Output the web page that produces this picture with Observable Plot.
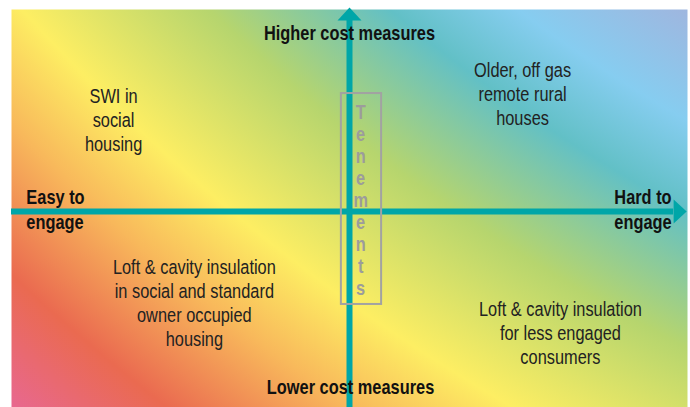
<!DOCTYPE html>
<html>
<head>
<meta charset="utf-8">
<script src="https://cdn.jsdelivr.net/npm/d3@7"></script>
<script src="https://cdn.jsdelivr.net/npm/@observablehq/plot@0.6"></script>
<style>
  html, body { margin: 0; padding: 0; background: #fff; }
  #chart svg { display: block; }
</style>
</head>
<body>
<div id="chart"></div>
<script>
// Quadrant space: x = difficulty to engage (-1 easy .. 1 hard), y = cost (-0.97 low .. 1 high)
const quadrantLabels = [
  "SWI in\nsocial\nhousing",
  "Older, off gas\nremote rural\nhouses",
  "Loft & cavity insulation\nin social and standard\nowner occupied\nhousing",
  "Loft & cavity insulation\nfor less engaged\nconsumers"
];
const quadrantX = [-0.698, 0.512, -0.459, 0.624];
const quadrantY = [0.455, 0.584, -0.45, -0.599];

const axisEndLabels = ["Higher cost measures", "Lower cost measures"];
const axisEndX = [0, 0.003];
const axisEndY = [0.881, -0.871];

const sideLabels = ["Easy to\nengage", "Hard to\nengage"];
const sideX = [-0.956, 0.953];
const sideY = [0.0145, 0.0145];
const sideAnchor = ["start", "end"];

const boxWord = "Tenements";
const boxX = [-0.024, 0.095];
const boxY = [-0.46, 0.584];
const boxLetterX = 0.033;
const boxLetterTop = 0.49;
const boxLetterStep = 0.109;

const gradientStops = [
  [0.684, "#9fb6df"],
  [0.725, "#86cdf0"],
  [0.759, "#62c0c6"],
  [0.811, "#b6d56e"],
  [0.869, "#fdee63"],
  [0.906, "#f8b85b"],
  [0.952, "#ea6a50"],
  [0.994, "#e8688f"]
];

const teal = "#00a6a8";
const sans = "'Liberation Sans', Arial, sans-serif";
const condense = 0.84;

const arrowHead = {
  draw(ctx) {
    ctx.moveTo(-12, 0);
    ctx.lineTo(12, 0);
    ctx.lineTo(0, -13);
    ctx.closePath();
  }
};

const quadrants = quadrantLabels.map((t, i) => ({t, x: quadrantX[i], y: quadrantY[i]}));
const axisEnds = axisEndLabels.map((t, i) => ({t, x: axisEndX[i], y: axisEndY[i]}));
const sides = sideLabels.map((t, i) => ({t, x: sideX[i], y: sideY[i], a: sideAnchor[i]}));
const letters = boxWord.split("").map((c, i) => ({c, x: boxLetterX, y: boxLetterTop - i * boxLetterStep}));

const plot = Plot.plot({
  width: 690,
  height: 407,
  marginLeft: 11,
  marginRight: 3,
  marginTop: 9,
  marginBottom: 0,
  x: {domain: [-1, 1], axis: null},
  y: {domain: [-0.97, 1], axis: null},
  style: {overflow: "visible", background: "transparent"},
  marks: [
    Plot.frame({fill: "url(#bgGrad)", stroke: "none"}),
    Plot.ruleY([0], {x1: -1, x2: 0.959, stroke: teal, strokeWidth: 6}),
    Plot.ruleX([0], {y1: -0.97, y2: 0.9455, stroke: teal, strokeWidth: 6}),
    Plot.dot([{x: 0.959, y: 0}], {x: "x", y: "y", symbol: arrowHead, fill: teal, stroke: "none", rotate: 90}),
    Plot.dot([{x: 0, y: 0.9455}], {x: "x", y: "y", symbol: arrowHead, fill: teal, stroke: "none"}),
    Plot.rect([{x1: boxX[0], x2: boxX[1], y1: boxY[0], y2: boxY[1]}], {x1: "x1", x2: "x2", y1: "y1", y2: "y2", fill: "none", stroke: "#a2a2a2", strokeWidth: 2}),
    Plot.text(letters, {x: "x", y: "y", text: "c", fill: "#9c9c9c", fontSize: 19.5, fontWeight: "bold", fontFamily: sans}),
    Plot.text(quadrants, {x: "x", y: "y", text: "t", fill: "#222", fontSize: 19.5, lineHeight: 1.23, fontFamily: sans}),
    Plot.text(axisEnds, {x: "x", y: "y", text: "t", fill: "#111", fontSize: 19.5, fontWeight: "bold", fontFamily: sans}),
    Plot.text(sides, {x: "x", y: "y", text: "t", textAnchor: "start", fill: "#111", fontSize: 19.5, fontWeight: "bold", lineHeight: 1.28, fontFamily: sans, filter: d => d.a === "start"}),
    Plot.text(sides, {x: "x", y: "y", text: "t", textAnchor: "end", fill: "#111", fontSize: 19.5, fontWeight: "bold", lineHeight: 1.28, fontFamily: sans, filter: d => d.a === "end"})
  ]
});

const svg = d3.select(plot);
const defs = svg.insert("defs", ":first-child");
const grad = defs.append("radialGradient")
  .attr("id", "bgGrad")
  .attr("gradientUnits", "userSpaceOnUse")
  .attr("cx", 1526).attr("cy", -1346).attr("r", 2330)
  .attr("fx", 1526).attr("fy", -1346);
gradientStops.forEach(([o, c]) => grad.append("stop").attr("offset", o).attr("stop-color", c));

// condensed look: narrow each label horizontally about its anchor
svg.selectAll("text").attr("transform", function () {
  return (this.getAttribute("transform") || "") + ` scale(${condense},1)`;
});

document.getElementById("chart").appendChild(plot);
</script>
</body>
</html>
